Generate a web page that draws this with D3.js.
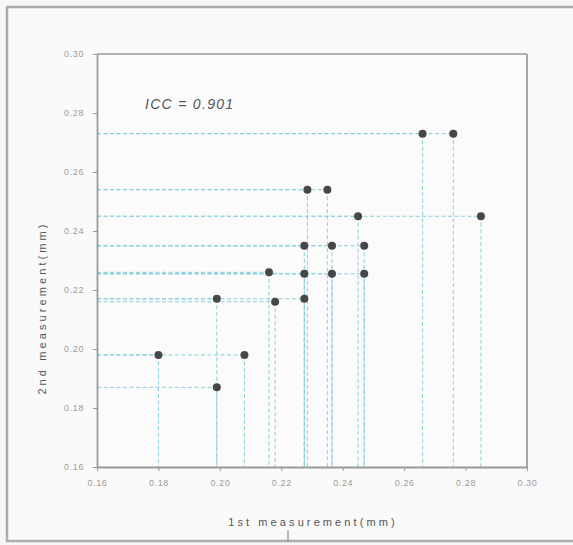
<!DOCTYPE html>
<html>
<head>
<meta charset="utf-8">
<script src="https://cdn.jsdelivr.net/npm/d3@7/dist/d3.min.js"></script>
<style>
  html, body { margin: 0; padding: 0; background: #f7f7f7; }
  svg { display: block; }
</style>
</head>
<body>
<script>
// ---- data ----
const firstMeasurement  = [0.180, 0.199, 0.199, 0.208, 0.216, 0.218, 0.266, 0.276, 0.2285, 0.235, 0.245, 0.285, 0.2275, 0.2365, 0.247, 0.2275, 0.2365, 0.247, 0.2275];
const secondMeasurement = [0.198, 0.217, 0.187, 0.198, 0.226, 0.216, 0.273, 0.273, 0.254, 0.254, 0.245, 0.245, 0.235, 0.235, 0.235, 0.2255, 0.2255, 0.2255, 0.217];
const tickValues = [0.16, 0.18, 0.20, 0.22, 0.24, 0.26, 0.28, 0.30];
const tickLabels = ["0.16", "0.18", "0.20", "0.22", "0.24", "0.26", "0.28", "0.30"];
const xTitle = "1st measurement(mm)";
const yTitle = "2nd measurement(mm)";
const iccText = "ICC = 0.901";

const W = 573, H = 545;
const svg = d3.select("body").append("svg").attr("width", W).attr("height", H);

// outer frame
svg.append("rect").attr("x", 0).attr("y", 0).attr("width", W).attr("height", H).attr("fill", "#f7f7f7");
svg.append("rect").attr("x", 7).attr("y", 7).attr("width", W + 10).attr("height", 534)
  .attr("fill", "#fafafa").attr("stroke", "#adadad").attr("stroke-width", 2.5);

const x = d3.scaleLinear().domain([0.16, 0.30]).range([97, 527]);
const y = d3.scaleLinear().domain([0.16, 0.30]).range([467, 54]);

// plot box background
svg.append("rect").attr("x", x(0.16)).attr("y", y(0.30))
  .attr("width", x(0.30) - x(0.16)).attr("height", y(0.16) - y(0.30))
  .attr("fill", "#fbfbfb");

const pts = firstMeasurement.map((v, i) => ({ x: v, y: secondMeasurement[i] }));

// dashed guide lines
const guides = svg.append("g").attr("stroke", "#86d0dc").attr("stroke-width", 1)
  .attr("stroke-dasharray", "4,2.5").attr("fill", "none");
guides.selectAll("line.h").data(pts).join("line").attr("class", "h")
  .attr("x1", x(0.16)).attr("x2", d => x(d.x))
  .attr("y1", d => y(d.y)).attr("y2", d => y(d.y));
guides.selectAll("line.v").data(pts).join("line").attr("class", "v")
  .attr("x1", d => x(d.x)).attr("x2", d => x(d.x))
  .attr("y1", d => y(d.y)).attr("y2", y(0.16));

// box top/right
svg.append("line").attr("x1", x(0.16)).attr("x2", x(0.30)).attr("y1", y(0.30)).attr("y2", y(0.30))
  .attr("stroke", "#9a9a9a").attr("stroke-width", 1.5);
svg.append("line").attr("x1", x(0.30)).attr("x2", x(0.30)).attr("y1", y(0.30)).attr("y2", y(0.16))
  .attr("stroke", "#a5a5a5").attr("stroke-width", 2);

// axes
const fmt = (d, i) => tickLabels[i];
const xAxis = svg.append("g").attr("transform", `translate(0,${y(0.16)})`)
  .call(d3.axisBottom(x).tickValues(tickValues).tickFormat(fmt).tickSize(4).tickSizeOuter(0).tickPadding(9));
const yAxis = svg.append("g").attr("transform", `translate(${x(0.16)},0)`)
  .call(d3.axisLeft(y).tickValues(tickValues).tickFormat(fmt).tickSize(4).tickSizeOuter(0).tickPadding(9));
[xAxis, yAxis].forEach(g => {
  g.select(".domain").attr("stroke", "#9a9a9a").attr("stroke-width", 1.8);
  g.selectAll(".tick line").attr("stroke", "#9a9a9a").attr("stroke-width", 1);
  g.selectAll(".tick text").attr("fill", "#9a9a9a").attr("font-family", "Liberation Sans, Arial, sans-serif")
    .attr("font-size", 9).attr("letter-spacing", 0.6);
});

// points
svg.append("g").selectAll("circle").data(pts).join("circle")
  .attr("cx", d => x(d.x)).attr("cy", d => y(d.y)).attr("r", 4)
  .attr("fill", "#474747");

// ICC label
svg.append("text").attr("x", 145).attr("y", 109)
  .attr("font-family", "Liberation Sans, Arial, sans-serif").attr("font-style", "italic")
  .attr("font-size", 14).attr("letter-spacing", 1.3).attr("fill", "#555")
  .text(iccText);

// axis titles
svg.append("text").attr("x", 313).attr("y", 526).attr("text-anchor", "middle")
  .attr("font-family", "Liberation Sans, Arial, sans-serif").attr("font-size", 11)
  .attr("letter-spacing", 3.1).attr("fill", "#555").text(xTitle);
svg.append("line").attr("x1", 288).attr("x2", 288).attr("y1", 530).attr("y2", 541)
  .attr("stroke", "#777").attr("stroke-width", 1);
svg.append("text").attr("transform", "translate(46,308) rotate(-90)").attr("text-anchor", "middle")
  .attr("font-family", "Liberation Sans, Arial, sans-serif").attr("font-size", 11)
  .attr("letter-spacing", 3.1).attr("fill", "#555").text(yTitle);
</script>
</body>
</html>
